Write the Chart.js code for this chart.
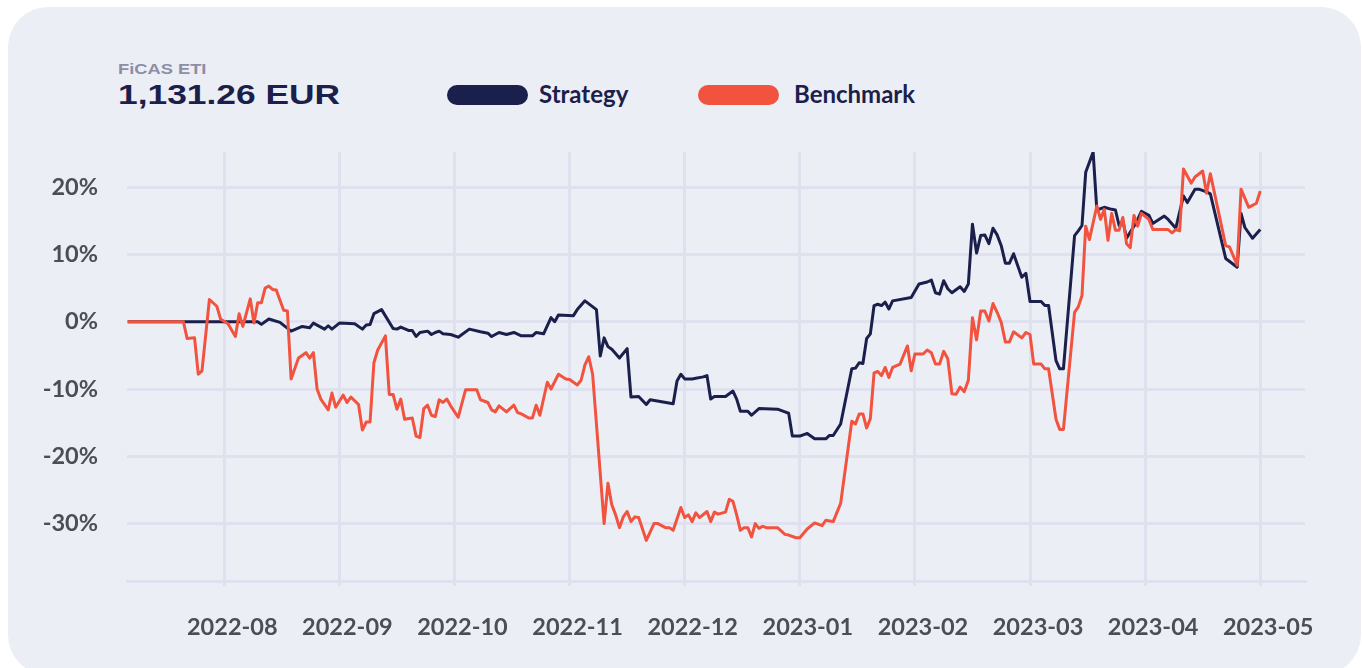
<!DOCTYPE html>
<html>
<head>
<meta charset="utf-8">
<title>FiCAS ETI</title>
<script src="https://cdn.jsdelivr.net/npm/chart.js@4.4.1/dist/chart.umd.min.js"></script>
<style>
    html, body { margin: 0; padding: 0; background: #ffffff; }
    body { width: 1362px; height: 668px; position: relative; overflow: hidden; }
    .card { position: absolute; left: 8px; top: 7px; width: 1353px; height: 668px; border-radius: 40px; background: #eceef6; }
    .fund-name { position: absolute; left: 118px; top: 61px; font: bold 15px/15px "Liberation Sans", Arial, sans-serif; color: #8c8ea6; transform: scaleX(1.22); transform-origin: left top; white-space: nowrap; }
    .fund-value { position: absolute; left: 118px; top: 80px; font: bold 28.5px/28.5px "Liberation Sans", Arial, sans-serif; color: #1b1f4b; transform: scaleX(1.24); transform-origin: left top; white-space: nowrap; }
    .legend-pill { position: absolute; top: 85px; width: 81px; height: 20px; border-radius: 10px; }
    .legend-text { position: absolute; top: 82px; font: bold 24px/24px Lato, "Noto Sans", sans-serif; color: #1b1f4b; white-space: nowrap; }
    #perfChart { position: absolute; left: 0; top: 0; }
</style>
</head>
<body>
<div class="card"></div>
<div class="fund-name">FiCAS ETI</div>
<div class="fund-value">1,131.26 EUR</div>
<div class="legend-pill" style="left: 447px; background: #1b1f4b;"></div>
<div class="legend-text" style="left: 539px;">Strategy</div>
<div class="legend-pill" style="left: 698px; background: #f1533f;"></div>
<div class="legend-text" style="left: 794px;">Benchmark</div>
<canvas id="perfChart" width="1362" height="668"></canvas>

<script>
// month ticks on the x axis (0 = 2022-08)
var monthTicks = [0, 1, 2, 3, 4, 5, 6, 7, 8, 9];
var monthLabels = ['2022-08', '2022-09', '2022-10', '2022-11', '2022-12', '2023-01', '2023-02', '2023-03', '2023-04', '2023-05'];
var yTicks = [-30, -20, -10, 0, 10, 20];

// Strategy, % performance
var strategyDates = [
    '2022-07-06', '2022-08-10', '2022-08-11', '2022-08-13', '2022-08-16', '2022-08-19', '2022-08-22', '2022-08-24',
    '2022-08-25', '2022-08-28', '2022-08-29', '2022-08-30', '2022-09-01', '2022-09-05', '2022-09-07', '2022-09-08',
    '2022-09-09', '2022-09-10', '2022-09-12', '2022-09-15', '2022-09-16', '2022-09-17', '2022-09-19', '2022-09-20',
    '2022-09-21', '2022-09-22', '2022-09-24', '2022-09-25', '2022-09-26', '2022-09-27', '2022-09-28', '2022-09-30',
    '2022-10-02', '2022-10-05', '2022-10-08', '2022-10-10', '2022-10-11', '2022-10-13', '2022-10-15', '2022-10-17',
    '2022-10-19', '2022-10-22', '2022-10-23', '2022-10-25', '2022-10-27', '2022-10-28', '2022-10-29', '2022-11-02',
    '2022-11-03', '2022-11-05', '2022-11-08', '2022-11-09', '2022-11-10', '2022-11-11', '2022-11-12', '2022-11-14',
    '2022-11-16', '2022-11-17', '2022-11-19', '2022-11-21', '2022-11-22', '2022-11-28', '2022-11-29', '2022-11-30',
    '2022-12-01', '2022-12-03', '2022-12-04', '2022-12-06', '2022-12-07', '2022-12-08', '2022-12-09', '2022-12-12',
    '2022-12-14', '2022-12-15', '2022-12-16', '2022-12-18', '2022-12-19', '2022-12-21', '2022-12-26', '2022-12-28',
    '2022-12-29', '2022-12-30', '2023-01-01', '2023-01-03', '2023-01-05', '2023-01-08', '2023-01-09', '2023-01-10',
    '2023-01-12', '2023-01-15', '2023-01-16', '2023-01-17', '2023-01-18', '2023-01-19', '2023-01-20', '2023-01-21',
    '2023-01-22', '2023-01-23', '2023-01-24', '2023-01-25', '2023-01-26', '2023-01-31', '2023-02-02', '2023-02-04',
    '2023-02-05', '2023-02-06', '2023-02-07', '2023-02-08', '2023-02-09', '2023-02-10', '2023-02-12', '2023-02-13',
    '2023-02-14', '2023-02-15', '2023-02-16', '2023-02-17', '2023-02-18', '2023-02-19', '2023-02-20', '2023-02-21',
    '2023-02-22', '2023-02-23', '2023-02-24', '2023-02-25', '2023-02-27', '2023-02-28', '2023-03-01', '2023-03-04',
    '2023-03-05', '2023-03-06', '2023-03-08', '2023-03-09', '2023-03-10', '2023-03-13', '2023-03-14', '2023-03-15',
    '2023-03-16', '2023-03-18', '2023-03-19', '2023-03-21', '2023-03-23', '2023-03-24', '2023-03-25', '2023-03-26',
    '2023-03-27', '2023-03-29', '2023-03-30', '2023-03-31', '2023-04-02', '2023-04-03', '2023-04-06', '2023-04-07',
    '2023-04-09', '2023-04-11', '2023-04-12', '2023-04-14', '2023-04-15', '2023-04-17', '2023-04-18', '2023-04-22',
    '2023-04-25', '2023-04-26', '2023-04-27', '2023-04-29', '2023-05-01'
];
var strategyValues = [
    0, 0, -0.4, 0.4, -0.1, -1.4, -0.7, -0.9,
    -0.2, -1.1, -0.6, -1.1, -0.2, -0.3, -1.1, -0.5,
    -0.4, 1.2, 1.8, -1.0, -1.1, -0.8, -1.3, -1.3,
    -2.2, -1.6, -1.4, -1.9, -1.6, -1.4, -1.8, -1.9,
    -2.3, -1.1, -1.5, -1.7, -2.2, -1.6, -1.9, -1.6,
    -2.1, -2.1, -1.6, -1.8, 0.6, 0, 1.0, 0.9,
    1.8, 3.1, 1.8, -5.1, -2.4, -3.7, -4.1, -5.4,
    -4.0, -11.2, -11.1, -12.3, -11.6, -12.2, -8.8, -7.8,
    -8.5, -8.5, -8.4, -8.2, -8.0, -11.5, -11.1, -11.1,
    -10.3, -11.5, -13.3, -13.3, -13.9, -12.9, -13.0, -13.4,
    -13.6, -17.0, -17.0, -16.6, -17.4, -17.4, -16.9, -16.9,
    -15.2, -7.0, -6.9, -6.1, -6.2, -2.5, -1.8, 2.4,
    2.6, 2.4, 2.9, 1.9, 3.1, 3.6, 5.6, 5.9,
    6.2, 4.3, 4.1, 6.1, 4.9, 4.3, 5.2, 4.5,
    5.6, 14.5, 10.2, 12.8, 12.9, 11.6, 13.9, 12.9,
    11.3, 8.7, 8.7, 10.1, 6.6, 7.2, 3.0, 3.0,
    2.4, 2.4, -5.8, -7.0, -7.0, 12.8, 13.5, 14.3,
    22.2, 25.2, 16.6, 17.0, 16.7, 16.6, 14.3, 15.0,
    12.4, 14.2, 15.2, 16.4, 15.8, 14.6, 15.7, 15.2,
    13.9, 18.7, 17.7, 19.7, 19.7, 19.3, 19.0, 9.4,
    8.1, 16.1, 14.0, 12.4, 13.7
];

// Benchmark, % performance
var benchmarkDates = [
    '2022-07-06', '2022-07-21', '2022-07-22', '2022-07-24', '2022-07-25', '2022-07-26', '2022-07-28', '2022-07-30',
    '2022-07-31', '2022-08-02', '2022-08-04', '2022-08-05', '2022-08-06', '2022-08-08', '2022-08-09', '2022-08-10',
    '2022-08-11', '2022-08-12', '2022-08-13', '2022-08-14', '2022-08-15', '2022-08-17', '2022-08-18', '2022-08-19',
    '2022-08-21', '2022-08-23', '2022-08-24', '2022-08-25', '2022-08-26', '2022-08-27', '2022-08-29', '2022-08-30',
    '2022-08-31', '2022-09-02', '2022-09-03', '2022-09-04', '2022-09-06', '2022-09-07', '2022-09-08', '2022-09-09',
    '2022-09-10', '2022-09-11', '2022-09-13', '2022-09-14', '2022-09-15', '2022-09-16', '2022-09-17', '2022-09-18',
    '2022-09-20', '2022-09-21', '2022-09-22', '2022-09-23', '2022-09-24', '2022-09-25', '2022-09-26', '2022-09-27',
    '2022-09-28', '2022-09-29', '2022-09-30', '2022-10-02', '2022-10-04', '2022-10-07', '2022-10-08', '2022-10-10',
    '2022-10-11', '2022-10-12', '2022-10-13', '2022-10-15', '2022-10-17', '2022-10-18', '2022-10-19', '2022-10-21',
    '2022-10-22', '2022-10-23', '2022-10-24', '2022-10-26', '2022-10-27', '2022-10-29', '2022-10-31', '2022-11-01',
    '2022-11-03', '2022-11-04', '2022-11-05', '2022-11-06', '2022-11-07', '2022-11-10', '2022-11-11', '2022-11-12',
    '2022-11-13', '2022-11-14', '2022-11-15', '2022-11-16', '2022-11-17', '2022-11-18', '2022-11-19', '2022-11-21',
    '2022-11-23', '2022-11-24', '2022-11-26', '2022-11-27', '2022-11-28', '2022-11-30', '2022-12-01', '2022-12-02',
    '2022-12-03', '2022-12-04', '2022-12-05', '2022-12-07', '2022-12-08', '2022-12-09', '2022-12-10', '2022-12-12',
    '2022-12-13', '2022-12-14', '2022-12-15', '2022-12-16', '2022-12-17', '2022-12-18', '2022-12-19', '2022-12-20',
    '2022-12-21', '2022-12-22', '2022-12-23', '2022-12-26', '2022-12-28', '2022-12-29', '2022-12-31', '2023-01-01',
    '2023-01-03', '2023-01-05', '2023-01-07', '2023-01-08', '2023-01-09', '2023-01-10', '2023-01-12', '2023-01-15',
    '2023-01-16', '2023-01-17', '2023-01-18', '2023-01-19', '2023-01-20', '2023-01-21', '2023-01-22', '2023-01-23',
    '2023-01-24', '2023-01-25', '2023-01-26', '2023-01-28', '2023-01-30', '2023-01-31', '2023-02-01', '2023-02-03',
    '2023-02-04', '2023-02-05', '2023-02-06', '2023-02-07', '2023-02-08', '2023-02-09', '2023-02-10', '2023-02-11',
    '2023-02-12', '2023-02-13', '2023-02-14', '2023-02-15', '2023-02-16', '2023-02-17', '2023-02-18', '2023-02-19',
    '2023-02-20', '2023-02-21', '2023-02-22', '2023-02-23', '2023-02-24', '2023-02-25', '2023-02-27', '2023-02-28',
    '2023-03-01', '2023-03-02', '2023-03-04', '2023-03-05', '2023-03-06', '2023-03-08', '2023-03-09', '2023-03-10',
    '2023-03-13', '2023-03-14', '2023-03-15', '2023-03-16', '2023-03-17', '2023-03-19', '2023-03-20', '2023-03-21',
    '2023-03-22', '2023-03-23', '2023-03-24', '2023-03-25', '2023-03-26', '2023-03-27', '2023-03-28', '2023-03-29',
    '2023-03-30', '2023-03-31', '2023-04-02', '2023-04-03', '2023-04-07', '2023-04-08', '2023-04-09', '2023-04-10',
    '2023-04-11', '2023-04-13', '2023-04-14', '2023-04-16', '2023-04-17', '2023-04-18', '2023-04-22', '2023-04-23',
    '2023-04-25', '2023-04-26', '2023-04-28', '2023-04-30', '2023-05-01'
];
var benchmarkValues = [
    0, 0, -2.5, -2.4, -7.8, -7.3, 3.3, 2.3,
    0.4, -0.3, -2.2, 1.2, -0.7, 3.4, -0.2, 2.8,
    2.8, 5.0, 5.3, 4.8, 4.7, 1.7, 1.6, -8.5,
    -5.4, -4.6, -5.4, -4.6, -10.0, -11.5, -13.1, -10.6,
    -12.7, -10.9, -12.0, -11.2, -12.3, -16.1, -14.9, -14.9,
    -6.1, -4.2, -2.1, -10.8, -10.8, -13.0, -11.5, -14.5,
    -14.3, -17.0, -17.2, -12.9, -12.4, -13.9, -14.1, -11.6,
    -12.0, -11.5, -12.5, -14.2, -10.1, -10.1, -11.6, -12.0,
    -13.1, -13.4, -12.5, -13.4, -12.4, -13.5, -13.7, -14.3,
    -14.3, -12.4, -13.9, -9.0, -10.0, -7.8, -8.5, -8.6,
    -9.4, -8.7, -6.4, -5.2, -7.8, -30.0, -24.0, -27.2,
    -28.7, -30.6, -29.0, -28.2, -29.7, -29.0, -29.1, -32.5,
    -30.0, -30.0, -30.6, -30.6, -31.0, -27.6, -29.1, -28.7,
    -29.7, -28.4, -29.1, -28.2, -29.7, -28.3, -28.6, -28.3,
    -26.4, -26.7, -28.7, -31.0, -30.6, -30.6, -32.0, -30.0,
    -30.7, -30.4, -30.6, -30.6, -31.6, -31.7, -32.1, -32.1,
    -30.8, -29.9, -30.3, -29.5, -29.6, -29.7, -27.0, -14.8,
    -15.2, -13.7, -13.7, -15.8, -14.4, -7.6, -7.4, -8.0,
    -6.8, -8.3, -6.8, -6.3, -3.6, -7.3, -4.8, -4.8,
    -4.2, -4.6, -6.3, -6.3, -4.4, -5.5, -10.7, -10.8,
    -9.7, -10.4, -8.7, 0.6, -2.7, 1.6, 1.6, 0.1,
    2.7, 1.4, -0.1, -3.0, -3.0, -1.5, -2.4, -1.6,
    -1.9, -6.3, -6.3, -7.0, -7.0, -14.5, -16.0, -16.0,
    1.4, 2.2, 3.9, 14.2, 12.2, 17.2, 15.2, 16.7,
    12.1, 16.1, 13.6, 13.6, 15.5, 11.6, 11.0, 15.8,
    14.2, 16.1, 15.2, 13.7, 13.7, 13.2, 13.7, 13.5,
    22.7, 20.6, 21.5, 22.4, 19.1, 22.0, 11.3, 11.1,
    8.4, 19.7, 17.0, 17.6, 19.4
];

var gridColor = '#dfe1ef';
var tickColor = '#4b4e53';

// position of a date on the month axis: 0 = 2022-08-01, 1 = 2022-09-01, ...
function monthPos(dateStr) {
    var parts = dateStr.split('-');
    var y = parseInt(parts[0], 10);
    var m = parseInt(parts[1], 10);
    var d = parseInt(parts[2], 10);
    var daysInMonth = new Date(Date.UTC(y, m, 0)).getUTCDate();
    return (y - 2022) * 12 + (m - 8) + (d - 1) / daysInMonth;
}

function toPoints(dates, values) {
    return dates.map(function (d, i) { return { x: monthPos(d), y: values[i] }; });
}

document.addEventListener('DOMContentLoaded', function () {
    var ctx = document.getElementById('perfChart');
    var tickFont = { family: 'Lato', weight: 'bold', size: 23.5 };

    new Chart(ctx, {
        type: 'line',
        data: {
            datasets: [
                {
                    label: 'Strategy',
                    data: toPoints(strategyDates, strategyValues),
                    borderColor: '#1b1f4b',
                    borderWidth: 3,
                    pointRadius: 0,
                    tension: 0,
                    borderJoinStyle: 'round',
                    order: 1
                },
                {
                    label: 'Benchmark',
                    data: toPoints(benchmarkDates, benchmarkValues),
                    borderColor: '#f1533f',
                    borderWidth: 3,
                    pointRadius: 0,
                    tension: 0,
                    borderJoinStyle: 'round',
                    order: 0
                }
            ]
        },
        options: {
            responsive: false,
            animation: false,
            devicePixelRatio: 1,
            layout: { padding: { top: 152, right: 57, left: 0, bottom: 0 } },
            plugins: {
                legend: { display: false },
                tooltip: { enabled: false }
            },
            scales: {
                x: {
                    type: 'linear',
                    min: -0.845,
                    max: 9.389,
                    afterBuildTicks: function (scale) {
                        scale.ticks = monthTicks.map(function (v) { return { value: v }; });
                    },
                    afterFit: function (scale) { scale.height = 87; },
                    ticks: {
                        autoSkip: false,
                        maxRotation: 0,
                        padding: 27,
                        labelOffset: 8,
                        color: tickColor,
                        font: tickFont,
                        callback: function (value) {
                            var i = monthTicks.indexOf(value);
                            return i >= 0 ? monthLabels[i] : '';
                        }
                    },
                    grid: { color: gridColor, lineWidth: 3, drawTicks: true, tickLength: 5 },
                    border: { display: true, color: gridColor, width: 3 }
                },
                y: {
                    min: -38.53,
                    max: 25.22,
                    afterBuildTicks: function (scale) {
                        scale.ticks = yTicks.map(function (v) { return { value: v }; });
                    },
                    afterFit: function (scale) { scale.width = 127; },
                    ticks: {
                        padding: 29,
                        color: tickColor,
                        font: tickFont,
                        callback: function (value) { return value + '%'; }
                    },
                    grid: { color: gridColor, lineWidth: 3, drawTicks: false },
                    border: { display: false }
                }
            }
        }
    });
});
</script>
</body>
</html>
